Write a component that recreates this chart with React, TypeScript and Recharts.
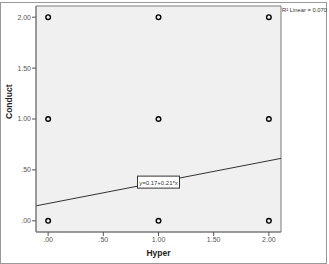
import {
  ReferenceArea,
  ReferenceDot,
  ReferenceLine,
  Scatter,
  ScatterChart,
  XAxis,
  YAxis,
} from 'recharts';

const hyper = [0, 1, 2, 0, 1, 2, 0, 1, 2];
const conduct = [0, 0, 0, 1, 1, 1, 2, 2, 2];
const xTicks = [0, 0.5, 1, 1.5, 2];
const yTicks = [0, 0.5, 1, 1.5, 2];
const fitIntercept = 0.17;
const fitSlope = 0.21;
const fitLabel = 'y=0.17+0.21*x';
const rSquared = '0.070';

const lo = -0.11;
const hi = 2.11;
const font = 'Arial, "Liberation Sans", sans-serif';

const points = hyper.map((h, i) => ({ hyper: h, conduct: conduct[i] }));
const fitAt = (x: number) => fitIntercept + fitSlope * x;

// SPSS style: ".50" rather than "0.50"
const fmt = (v: number) => v.toFixed(2).replace(/^0/, '');

function Ring(props: { cx?: number; cy?: number }) {
  const { cx = 0, cy = 0 } = props;
  return <circle cx={cx} cy={cy} r={2.3} fill="none" stroke="#000" strokeWidth={1.4} />;
}

function FitBox(props: { cx?: number; cy?: number }) {
  const { cx = 0, cy = 0 } = props;
  return (
    <g>
      <rect x={cx - 21} y={cy - 6} width={42} height={12} fill="#fff" stroke="#333" strokeWidth={1} />
      <text x={cx} y={cy + 2.5} textAnchor="middle" fontSize={6} fontFamily={font} fill="#333">
        {fitLabel}
      </text>
    </g>
  );
}

const tickStyle = { fill: '#555', fontSize: 7, fontFamily: font };

export default function App() {
  return (
    <div style={{ position: 'absolute', left: 0, top: 0, width: 329, height: 264, background: '#fff' }}>
      <div
        style={{
          position: 'absolute',
          left: 0,
          top: 2,
          width: 327,
          height: 262,
          border: '1px solid #999',
          boxSizing: 'border-box',
        }}
      />
      <ScatterChart width={329} height={264} margin={{ top: 6, right: 48, left: 0, bottom: 0 }}>
        <ReferenceArea x1={lo} x2={hi} y1={lo} y2={hi} fill="#f0f0f0" fillOpacity={1} stroke="#7a7a7a" strokeWidth={1} />
        <XAxis
          type="number"
          dataKey="hyper"
          domain={[lo, hi]}
          ticks={xTicks}
          tickFormatter={fmt}
          tick={tickStyle}
          tickSize={4}
          tickMargin={1}
          height={32}
          axisLine={{ stroke: '#7a7a7a' }}
          tickLine={{ stroke: '#555' }}
          label={{ value: 'Hyper', position: 'insideBottom', offset: 8, fontSize: 8.5, fontWeight: 'bold', fontFamily: font, fill: '#222' }}
        />
        <YAxis
          type="number"
          dataKey="conduct"
          domain={[lo, hi]}
          ticks={yTicks}
          tickFormatter={fmt}
          tick={tickStyle}
          tickSize={4}
          tickMargin={1}
          width={36}
          axisLine={{ stroke: '#7a7a7a' }}
          tickLine={{ stroke: '#555' }}
          label={{ value: 'Conduct', angle: -90, position: 'insideLeft', offset: 9, fontSize: 8.5, fontWeight: 'bold', fontFamily: font, fill: '#222' }}
        />
        <ReferenceLine
          segment={[
            { x: lo, y: fitAt(lo) },
            { x: hi, y: fitAt(hi) },
          ]}
          stroke="#333"
          strokeWidth={1}
        />
        <ReferenceDot x={1} y={fitAt(1)} r={0} shape={<FitBox />} />
        <Scatter data={points} shape={<Ring />} isAnimationActive={false} />
      </ScatterChart>
      <svg style={{ position: 'absolute', left: 281, top: 3 }} width={48} height={14}>
        <text x={1} y={9} fontSize={5.8} fontFamily={font} fill="#333">
          {`R² Linear = ${rSquared}`}
        </text>
      </svg>
    </div>
  );
}
